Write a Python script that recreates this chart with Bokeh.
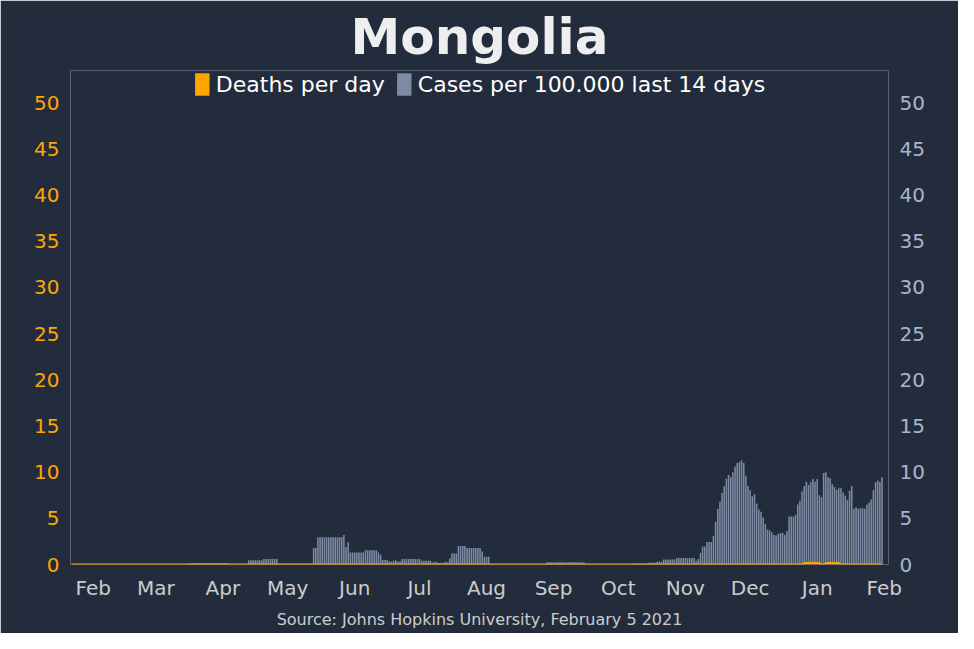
import pandas as pd
from bokeh.plotting import figure
from bokeh.models import LinearAxis, Range1d, MonthsTicker, DatetimeTickFormatter, Legend, LegendItem, Title, SingleIntervalTicker
from bokeh.embed import file_html
from bokeh.resources import INLINE

start_date = "2020-01-22"
cases = ([0.0]*55 + [0.15]*18 + [0.05]*9 + [0.45]*7 + [0.6]*7 + [0.08]*16 +
         [1.8, 1.8] + [2.95]*12 + [3.2, 1.9, 2.4] + [1.3]*7 + [1.55]*6 + [1.3, 1.05] +
         [0.5]*3 + [0.35, 0.3, 0.4, 0.45, 0.3, 0.35] + [0.6]*9 + [0.4]*5 +
         [0.2, 0.3, 0.25, 0.15, 0.2, 0.15, 0.3, 0.25] + [0.65] + [1.2]*3 + [2.0]*4 + [1.8]*7 +
         [1.4] + [0.85]*3 + [0.05]*26 + [0.25]*18 + [0.02]*22 + [0.1]*7 + [0.2]*4 + [0.3]*3 +
         [0.55]*6 + [0.7]*9 + [0.4, 0.6] +
         [1.25, 1.95, 1.95, 2.45, 2.45, 2.45, 3.1, 4.6, 6.0, 6.8,
          7.75, 8.5, 9.3, 9.7, 9.45, 10.0, 10.6, 11.0, 11.1, 11.3,
          11.0, 9.6, 8.5, 8.05, 7.4, 7.6, 6.6, 5.95, 5.7, 5.1,
          4.4, 3.8, 3.7, 3.5, 3.2, 3.15, 3.3, 3.4, 3.4, 3.2,
          3.6, 5.2, 5.2, 5.2, 5.4, 6.5, 6.9, 7.9, 8.5, 8.95,
          8.6, 8.9, 9.25, 8.95, 9.25, 7.5, 7.3, 9.9, 10.0, 9.45,
          9.35, 8.7, 8.4, 8.1, 8.25, 8.25, 7.8, 7.45, 7.0, 8.0,
          8.5, 6.05, 6.2, 6.05, 6.1, 6.1, 6.05, 6.5, 6.7, 7.05,
          8.05, 8.9, 9.1, 8.95, 9.45])
deaths = [0.0]*339 + [0.15]*8 + [0.0]*2 + [0.15]*7 + [0.0]*(len(cases)-356)
dates = pd.date_range(start_date, periods=len(cases), freq="D")

BG = "#232c3d"
ORANGE = "#ffa500"
BLUE = "#aab4cc"
BAR = "#7d8aa3"
DAY = 86400000

p = figure(width=958, height=633, x_axis_type="datetime", output_backend="svg",
           toolbar_location=None, background_fill_color=BG, border_fill_color=BG,
           outline_line_color=None, min_border_left=70, min_border_right=70,
           min_border_top=10, min_border_bottom=10)
p.x_range = Range1d(dates[0] - pd.Timedelta(hours=12), dates[-1] + pd.Timedelta(days=3))
p.y_range = Range1d(0, 53.5)
p.extra_y_ranges = {"r": Range1d(0, 53.5)}
p.grid.visible = False

cr = p.vbar(x=dates, top=cases, width=DAY*0.72, fill_color=BAR, line_color=None, y_range_name="r")
dr = p.vbar(x=dates, top=deaths, width=DAY*0.9, fill_color=ORANGE, line_color=None)
p.line(x=dates, y=deaths, line_color=ORANGE, line_width=2)

p.yaxis[0].ticker = SingleIntervalTicker(interval=5)
p.yaxis[0].major_label_text_color = ORANGE
p.yaxis[0].major_label_text_font_size = "20px"
ra = LinearAxis(y_range_name="r", ticker=SingleIntervalTicker(interval=5))
ra.major_label_text_color = BLUE
ra.major_label_text_font_size = "20px"
p.add_layout(ra, "right")
for ax in [p.yaxis[0], ra, p.xaxis[0]]:
    ax.axis_line_color = None
    ax.major_tick_line_color = None
    ax.minor_tick_line_color = None
    ax.major_label_text_font = "DejaVu Sans"
p.xaxis.ticker = MonthsTicker(months=list(range(12)))
p.xaxis.formatter = DatetimeTickFormatter(months="%b", days="%b")
p.xaxis.major_label_text_color = "#cccccc"
p.xaxis.major_label_text_font_size = "20px"

legend = Legend(items=[LegendItem(label="Deaths per day", renderers=[dr]),
                       LegendItem(label="Cases per 100.000 last 14 days", renderers=[cr])],
                orientation="horizontal", location="top_center", background_fill_alpha=0,
                border_line_color=None, label_text_color="white", label_text_font_size="22px",
                label_text_font="DejaVu Sans", glyph_width=18, glyph_height=28, spacing=10,
                padding=0, margin=0)
p.add_layout(legend)

p.add_layout(Title(text="Source: Johns Hopkins University, February 5 2021", align="center",
                   text_color="#cccccc", text_font_size="16px", text_font_style="normal",
                   text_font="DejaVu Sans"), "below")
p.add_layout(Title(text="Mongolia", align="center", text_color="#eeeeee", text_font_size="50px",
                   text_font_style="bold", text_font="DejaVu Sans"), "above")

open("out.html", "w").write(file_html(p, INLINE))
